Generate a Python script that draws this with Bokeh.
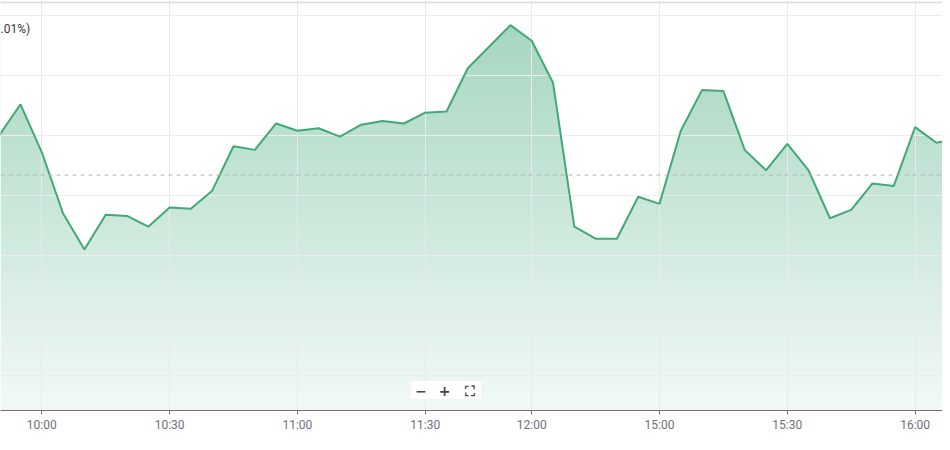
import numpy as np
from bokeh.plotting import figure
from bokeh.models import FixedTicker, Grid, Span, Label, Range1d, ColumnDataSource, BoxAnnotation
from bokeh.embed import file_html
from bokeh.resources import INLINE

# ---- data ----
times = ["09:50", "09:55", "10:00", "10:05", "10:10", "10:15", "10:20", "10:25",
         "10:30", "10:35", "10:40", "10:45", "10:50", "10:55", "11:00", "11:05",
         "11:10", "11:15", "11:20", "11:25", "11:30", "11:35", "11:40", "11:45",
         "11:50", "12:00", "14:35", "14:40", "14:45", "14:50", "14:55", "15:00",
         "15:05", "15:10", "15:15", "15:20", "15:25", "15:30", "15:35", "15:40",
         "15:45", "15:50", "15:55", "16:00", "16:05", "16:10"]
prices = [10.200, 10.226, 10.186, 10.135, 10.105, 10.134, 10.133, 10.124,
          10.140, 10.139, 10.154, 10.191, 10.188, 10.210, 10.204, 10.206,
          10.199, 10.209, 10.212, 10.210, 10.219, 10.220, 10.256, 10.274,
          10.292, 10.279, 10.244, 10.124, 10.114, 10.114, 10.149, 10.143,
          10.204, 10.238, 10.237, 10.188, 10.171, 10.193, 10.171, 10.131,
          10.138, 10.160, 10.158, 10.207, 10.194, 10.197]
tick_labels = ["10:00", "10:30", "11:00", "11:30", "12:00", "15:00", "15:30", "16:00"]
grid_levels = [10.00, 10.05, 10.10, 10.15, 10.20, 10.25, 10.30]
prev_close = 10.167

xs = list(range(len(times)))
tick_idx = [times.index(t) for t in tick_labels]

LINE = "#41a877"
X0, X1 = 0.061, 44.286
Y0, Y1 = 9.9708, 10.3125

p = figure(width=942, height=442, output_backend="svg", toolbar_location=None,
           x_range=Range1d(X0, X1), y_range=Range1d(Y0, Y1),
           y_axis_location=None, min_border_left=0, min_border_right=0,
           min_border_top=0, min_border_bottom=32, outline_line_color=None,
           background_fill_color="white", border_fill_color="white")

# gradient fill under the curve (image + white mask above curve)
N = 512
img = np.empty((N, 1), dtype=np.uint32)
view = img.view(dtype=np.uint8).reshape((N, 1, 4))
view[:, 0, 0] = 0x41
view[:, 0, 1] = 0xA8
view[:, 0, 2] = 0x77
a_bot, a_top = 0.07, 0.47
view[:, 0, 3] = (255 * (a_bot + (a_top - a_bot) * np.arange(N) / (N - 1))).astype(np.uint8)
top = max(prices)
p.image_rgba(image=[img], x=X0, y=Y0, dw=X1 - X0, dh=top - Y0, level="image")

src = ColumnDataSource(dict(x=xs, y=prices, top=[Y1] * len(xs)))
p.varea(x="x", y1="y", y2="top", source=src, fill_color="white", level="image")

# grids
p.xaxis.ticker = FixedTicker(ticks=tick_idx)
p.xgrid.ticker = FixedTicker(ticks=tick_idx)
p.xgrid.grid_line_color = "#e9e9e9"
p.xgrid.level = "underlay"
yg = Grid(dimension=1, ticker=FixedTicker(ticks=grid_levels),
          grid_line_color="#ececec", level="underlay")
p.add_layout(yg)

# top border line
p.add_layout(Span(location=10.3108, dimension="width", line_color="#dcdcdc", line_width=1.5))

# previous close
p.add_layout(Span(location=prev_close, dimension="width", line_color="#b4b4b4",
                  line_dash="4 4", line_width=1))

# price line
p.line(x="x", y="y", source=src, line_color=LINE, line_width=2)

# x axis
ax = p.xaxis[0]
ax.major_label_overrides = {i: t for i, t in zip(tick_idx, tick_labels)}
ax.axis_line_color = "#6e7079"
ax.major_tick_line_color = "#6e7079"
ax.major_tick_in = 0
ax.major_tick_out = 4
ax.minor_tick_line_color = None
ax.major_label_standoff = 3
ax.major_label_text_color = "#6e7079"
ax.major_label_text_font = "Roboto"
ax.major_label_text_font_size = "12px"

# header text (only its visible tail is in the reference)
p.add_layout(Label(x=0, y=382, x_units="screen", y_units="screen",
                   text=".01%)", text_align="left", text_baseline="middle",
                   text_font="Roboto", text_font_size="12px", text_color="#333333"))

# zoom control
p.add_layout(BoxAnnotation(left=410, right=481, bottom=11, top=30,
                           left_units="screen", right_units="screen",
                           bottom_units="screen", top_units="screen",
                           fill_color="white", fill_alpha=1.0,
                           line_color="#e6e6e6", line_width=1, level="overlay"))
for cx, sym in zip([420.5, 444, 469], ["−", "+", "⛶"]):
    p.add_layout(Label(x=cx, y=20, x_units="screen", y_units="screen",
                       text=sym, text_align="center", text_baseline="middle",
                       text_font="DejaVu Sans", text_font_size="14px",
                       text_color="#444444", text_font_style="bold", level="overlay"))

open("out.html", "w").write(file_html(p, INLINE))
